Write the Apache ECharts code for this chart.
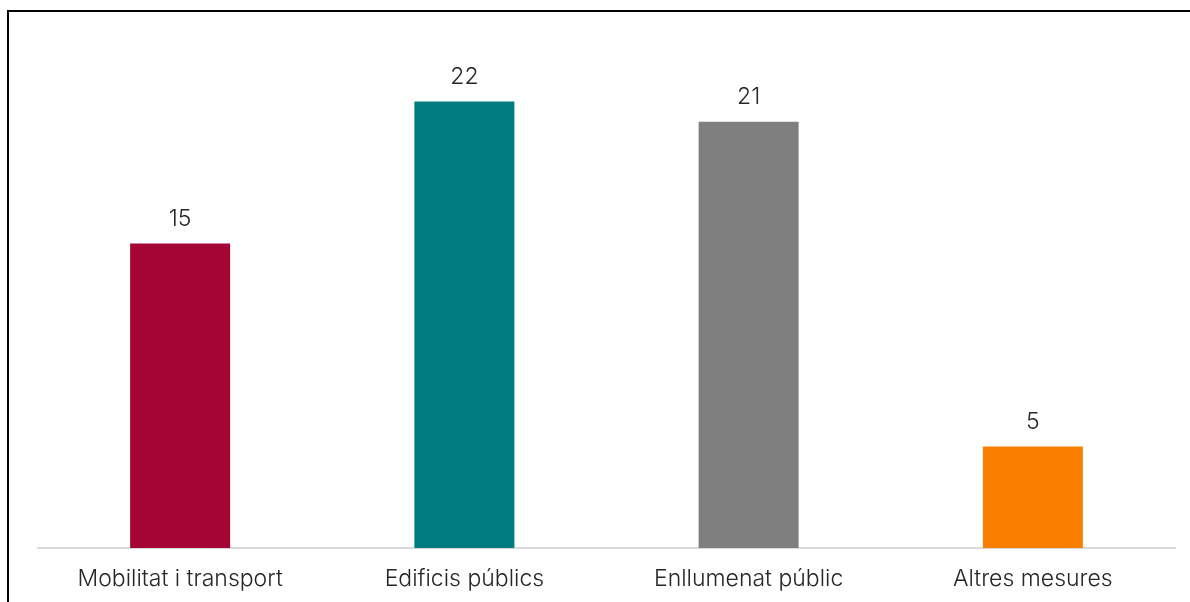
<!DOCTYPE html>
<html>
<head>
<meta charset="utf-8">
<script src="https://cdn.jsdelivr.net/npm/echarts@6/dist/echarts.min.js"></script>
<style>
html,body{margin:0;padding:0;background:#fff;}
#chart{width:1190px;height:602px;}
</style>
</head>
<body>
<div id="chart"></div>
<script>
const categories = ['Mobilitat i transport', 'Edificis públics', 'Enllumenat públic', 'Altres mesures'];
const values = [15, 22, 21, 5];
const colors = ['#A50535', '#007C80', '#7F7F7F', '#FA7F00'];

const FONT = 'Inter, Liberation Sans, Arial, sans-serif';
const chart = echarts.init(document.getElementById('chart'));
chart.setOption({
  animation: false,
  backgroundColor: '#ffffff',
  grid: { left: 38, right: 15, top: 40.5, bottom: 54 },
  xAxis: {
    type: 'category',
    data: categories,
    axisLine: { lineStyle: { color: '#d9d9d9', width: 2 } },
    axisTick: { show: false },
    axisLabel: { fontFamily: FONT, fontWeight: 300, fontSize: 23, color: '#262626', margin: 20 }
  },
  yAxis: {
    type: 'value', min: 0, max: 25, show: false, splitLine: { show: false }
  },
  series: [{
    type: 'bar',
    barWidth: 100,
    data: values.map((v, i) => ({ value: v, itemStyle: { color: colors[i] } })),
    label: {
      show: true, position: 'top', distance: 13,
      fontFamily: FONT, fontWeight: 300, fontSize: 23, color: '#262626'
    }
  }],
  graphic: [{
    type: 'polyline',
    shape: { points: [[8, 602], [8, 11], [1190, 11]] },
    style: { stroke: '#000', lineWidth: 2, fill: null }
  }]
});
</script>
</body>
</html>
